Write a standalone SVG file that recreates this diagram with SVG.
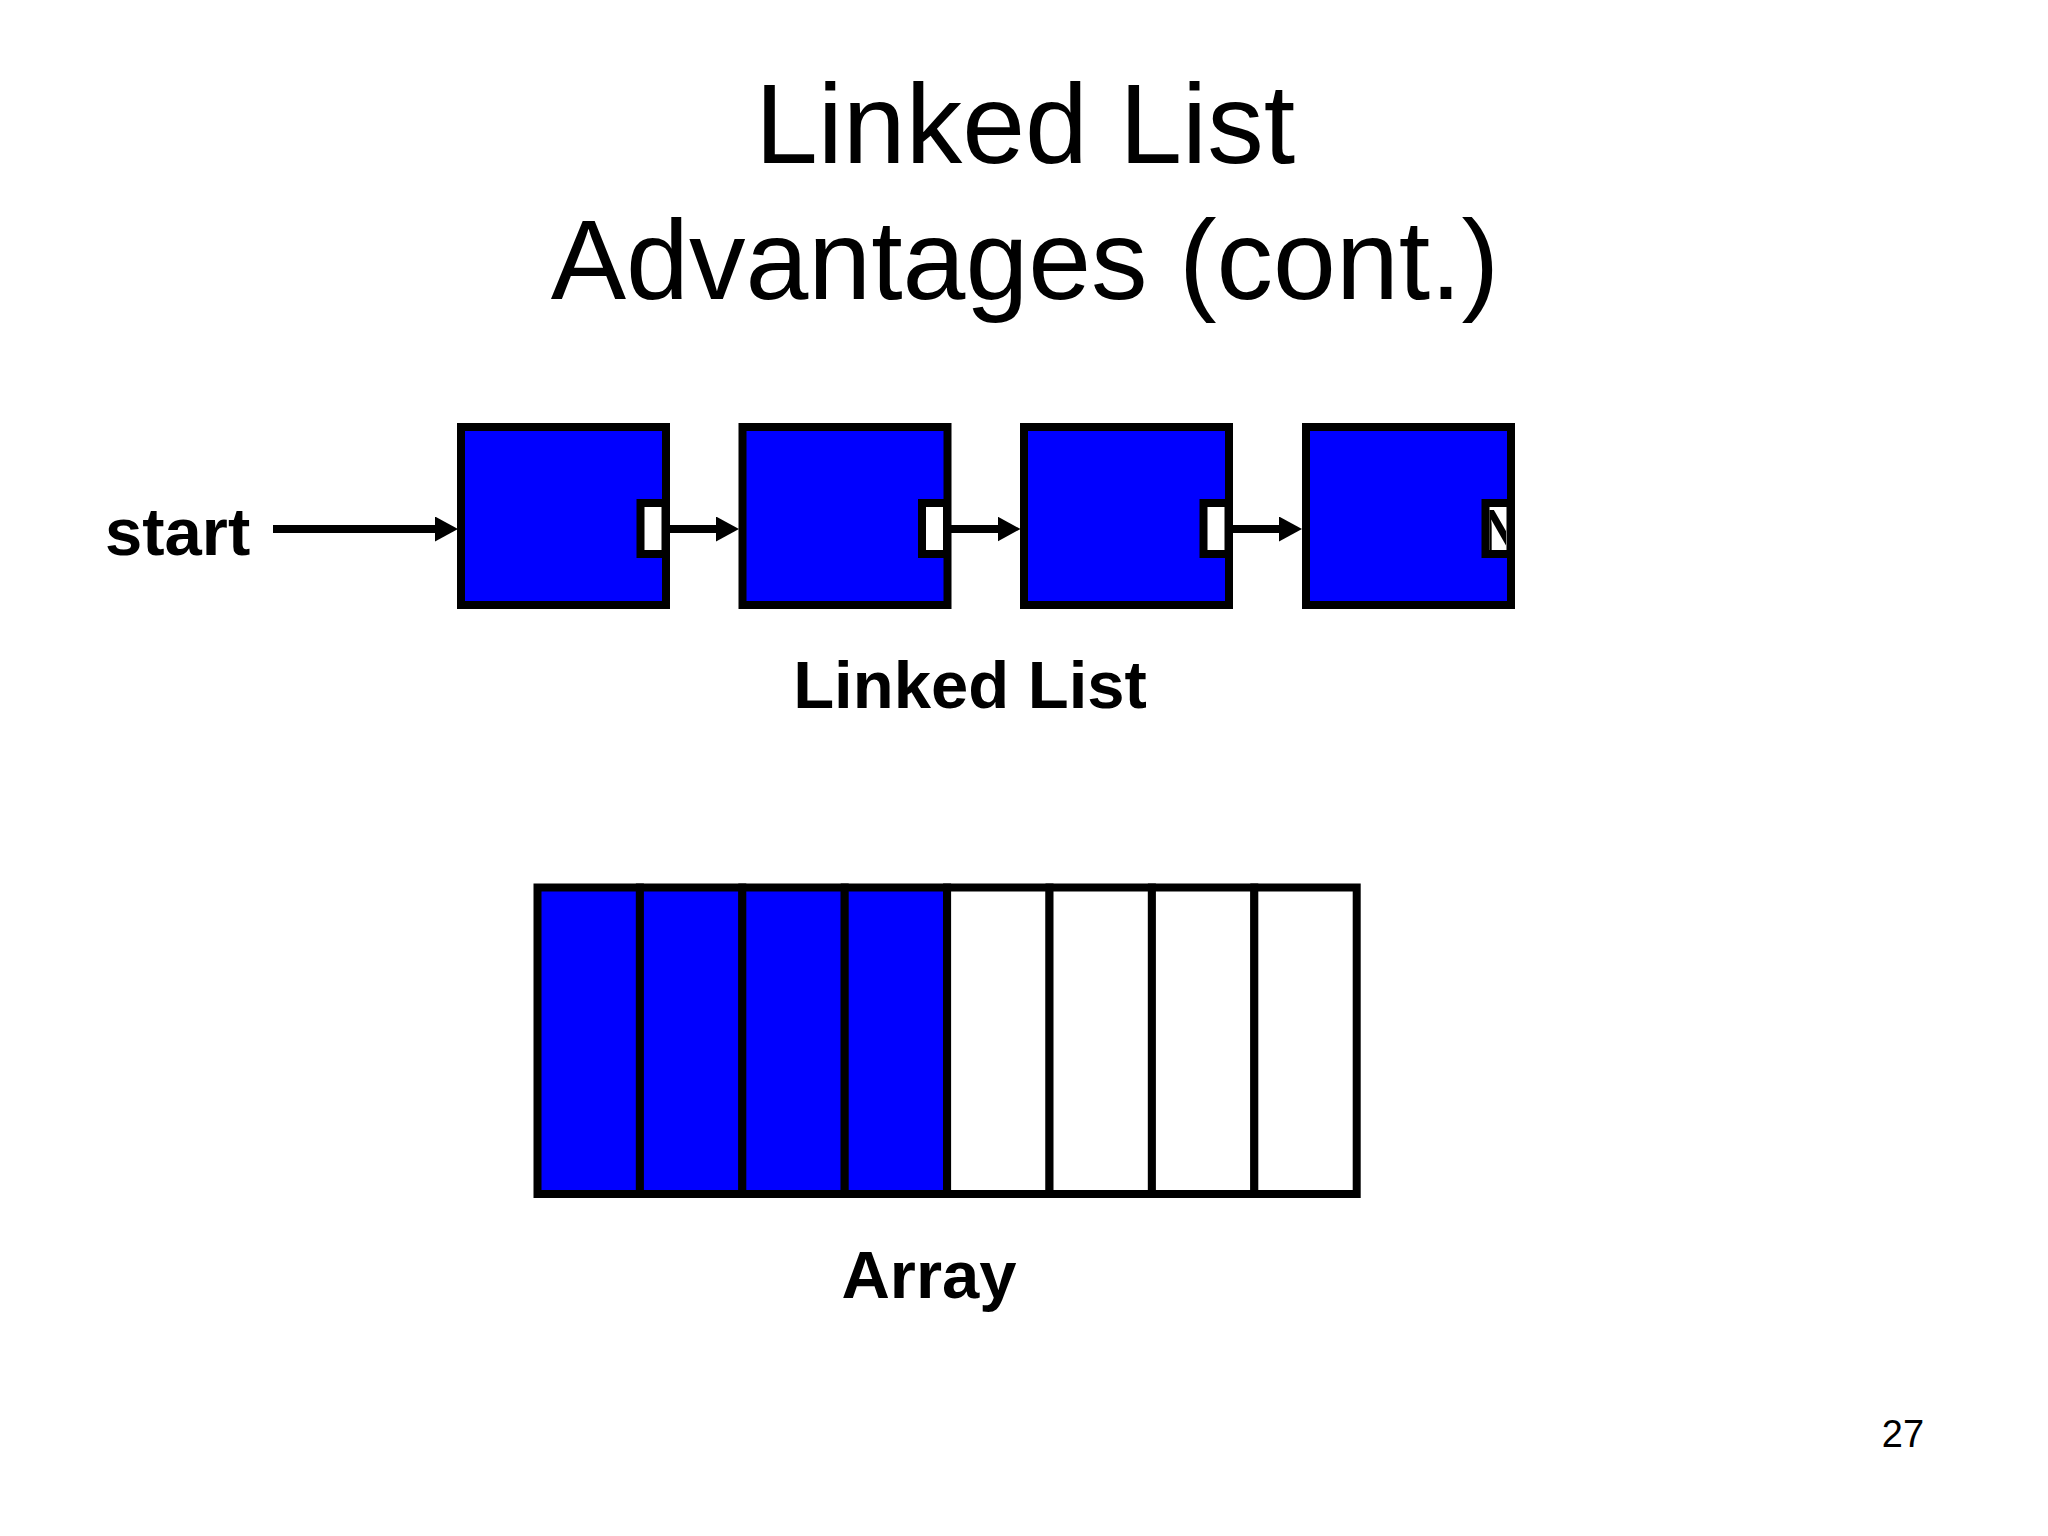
<svg xmlns="http://www.w3.org/2000/svg" width="2048" height="1536" viewBox="0 0 2048 1536">
<style>
.title{font-family:"Liberation Sans",Arial,sans-serif;font-size:113px;fill:#000;text-anchor:middle}
.lbl{font-family:"Liberation Sans",Arial,sans-serif;font-size:67px;font-weight:bold;fill:#000}
.num{font-family:"Liberation Sans",Arial,sans-serif;font-size:38px;fill:#000;text-anchor:middle}
.node{fill:#0000FF;stroke:#000;stroke-width:8}
.ptr{fill:#FFFFFF;stroke:#000;stroke-width:8}
.cellb{fill:#0000FF;stroke:#000;stroke-width:8}
.cellw{fill:#FFFFFF;stroke:#000;stroke-width:8}
.conn{stroke:#000;stroke-width:8;fill:none;marker-end:url(#ah)}
</style>
<defs>
<marker id="ah" markerUnits="userSpaceOnUse" markerWidth="23" markerHeight="25" refX="3" refY="12.5" orient="auto">
<path d="M0,0 L23,12.5 L0,25 Z" fill="#000"/>
</marker>
<clipPath id="nclip"><rect x="1489.5" y="507" width="16.5" height="43"/></clipPath>
</defs>
<rect width="2048" height="1536" fill="#FFFFFF"/>
<g id="title">
<text class="title" x="1025" y="163">Linked List</text>
<text class="title" x="1025" y="299">Advantages (cont.)</text>
</g>
<g id="start-label"><text class="lbl" x="105" y="555">start</text></g>
<g id="node1"><rect class="node" x="461" y="427" width="205" height="178"/><rect class="ptr" x="640.5" y="503" width="25" height="51"/></g>
<g id="node2"><rect class="node" x="742.5" y="427" width="205" height="178"/><rect class="ptr" x="922" y="503" width="25" height="51"/></g>
<g id="node3"><rect class="node" x="1024" y="427" width="205" height="178"/><rect class="ptr" x="1203.5" y="503" width="25" height="51"/></g>
<g id="node4"><rect class="node" x="1306" y="427" width="205" height="178"/><rect x="1485.5" y="503" width="25" height="51" fill="#FFFFFF"/><text class="lbl" x="1480" y="550.5" font-size="60" style="font-size:60px" clip-path="url(#nclip)">N</text><rect x="1485.5" y="503" width="25" height="51" fill="none" stroke="#000" stroke-width="8"/></g>
<g id="connectors">
<line class="conn" x1="273" y1="529" x2="438" y2="529"/>
<line class="conn" x1="669" y1="529" x2="719" y2="529"/>
<line class="conn" x1="951" y1="529" x2="1000.5" y2="529"/>
<line class="conn" x1="1232" y1="529" x2="1282" y2="529"/>
</g>
<g id="linked-list-label"><text class="lbl" x="970" y="708" text-anchor="middle">Linked List</text></g>
<g id="array">
<rect class="cellb" x="537.5" y="887.5" width="102.4" height="306.5"/>
<rect class="cellb" x="639.9" y="887.5" width="102.4" height="306.5"/>
<rect class="cellb" x="742.3" y="887.5" width="102.4" height="306.5"/>
<rect class="cellb" x="844.7" y="887.5" width="102.4" height="306.5"/>
<rect class="cellw" x="947.1" y="887.5" width="102.4" height="306.5"/>
<rect class="cellw" x="1049.5" y="887.5" width="102.4" height="306.5"/>
<rect class="cellw" x="1151.9" y="887.5" width="102.4" height="306.5"/>
<rect class="cellw" x="1254.3" y="887.5" width="102.4" height="306.5"/>
</g>
<g id="array-label"><text class="lbl" x="929" y="1298" text-anchor="middle">Array</text></g>
<g id="page-number"><text class="num" x="1903" y="1447">27</text></g>
</svg>
